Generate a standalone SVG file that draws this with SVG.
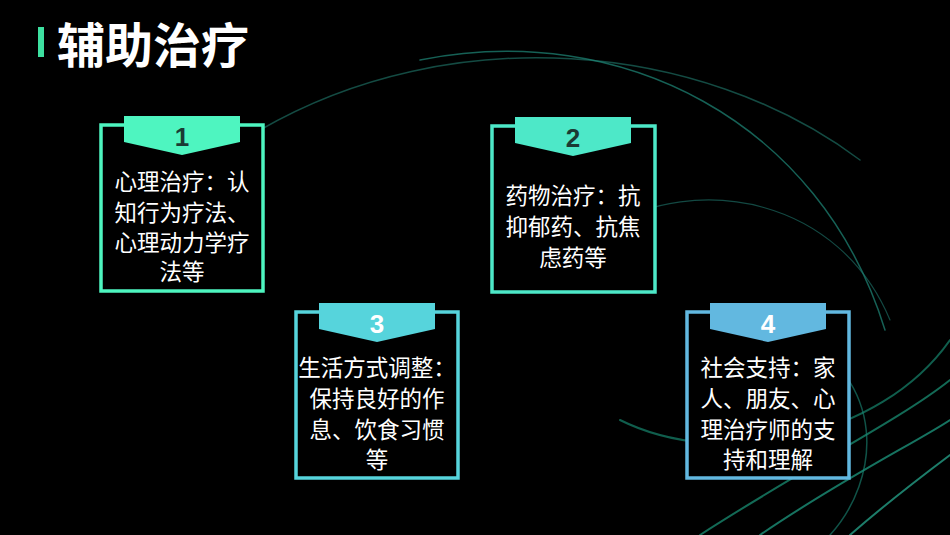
<svg xmlns="http://www.w3.org/2000/svg" width="950" height="535" viewBox="0 0 950 535">
<style>
.t{font-family:"Noto Sans CJK SC","Liberation Sans",sans-serif;font-size:22.5px;fill:#fff;text-anchor:middle}
.n{font-family:"Liberation Sans","Noto Sans",sans-serif;font-size:26px;font-weight:bold;text-anchor:middle}
.box{fill:#000;stroke-width:3.5}
.sw{fill:none;stroke-linecap:round}
</style>
<rect width="950" height="535" fill="#000"/>
<g id="bg">
<path class="sw" d="M260 130 C450 20 700 40 860 160" stroke="#1c6b60" stroke-width="1.5" opacity="0.7"/>
<path class="sw" d="M420 60 C620 20 820 120 885 330" stroke="#1f8a7a" stroke-width="1.5" opacity="0.7"/>
<path class="sw" d="M600 230 C700 170 840 200 890 320" stroke="#1f7a70" stroke-width="1.2" opacity="0.6"/>
<path class="sw" d="M620 420 C720 470 880 440 950 340" stroke="#1a9c80" stroke-width="2" opacity="0.6"/>
<path class="sw" d="M700 535 C800 470 900 420 950 380" stroke="#1fb090" stroke-width="2" opacity="0.6"/>
<path class="sw" d="M760 535 C840 480 920 440 950 420" stroke="#25c0a0" stroke-width="2" opacity="0.6"/>
<path class="sw" d="M850 535 C890 500 930 470 950 455" stroke="#30d0b0" stroke-width="2" opacity="0.6"/>
<path class="sw" d="M790 330 C890 380 880 480 830 535" stroke="#1a8a78" stroke-width="1.5" opacity="0.6"/>
</g>
<g id="title">
<rect x="38" y="27" width="6" height="30" fill="#3de0a0"/>
<text x="57" y="63" font-family="Noto Sans CJK SC,sans-serif" font-size="48" font-weight="bold" fill="#fff">辅助治疗</text>
</g>
<g id="node1">
<rect class="box" x="101" y="125" width="162" height="166" stroke="#4ef5c0"/>
<path d="M124 116 H240 V142 L182 155 L124 142 Z" fill="#4ef5c0"/>
<text class="n" x="182" y="146" fill="#1b3a34">1</text>
<text class="t" x="182" y="190">心理治疗：认</text>
<text class="t" x="182" y="221">知行为疗法、</text>
<text class="t" x="182" y="251">心理动力学疗</text>
<text class="t" x="182" y="280">法等</text>
</g>
<g id="node2">
<rect class="box" x="492" y="126" width="163" height="166" stroke="#4de8c8"/>
<path d="M515 117 H631 V143 L573 156 L515 143 Z" fill="#4de8c8"/>
<text class="n" x="573" y="147" fill="#1b3a34">2</text>
<text class="t" x="573" y="204">药物治疗：抗</text>
<text class="t" x="573" y="235">抑郁药、抗焦</text>
<text class="t" x="573" y="266">虑药等</text>
</g>
<g id="node3">
<rect class="box" x="296" y="312" width="162" height="166" stroke="#56d4dc"/>
<path d="M319 303 H435 V329 L377 342 L319 329 Z" fill="#56d4dc"/>
<text class="n" x="377" y="333" fill="#fff">3</text>
<text class="t" x="377" y="376">生活方式调整：</text>
<text class="t" x="377" y="407">保持良好的作</text>
<text class="t" x="377" y="438">息、饮食习惯</text>
<text class="t" x="377" y="468">等</text>
</g>
<g id="node4">
<rect class="box" x="687" y="312" width="162" height="166" stroke="#62b8e0"/>
<path d="M710 303 H826 V329 L768 342 L710 329 Z" fill="#62b8e0"/>
<text class="n" x="768" y="333" fill="#fff">4</text>
<text class="t" x="768" y="376">社会支持：家</text>
<text class="t" x="768" y="407">人、朋友、心</text>
<text class="t" x="768" y="438">理治疗师的支</text>
<text class="t" x="768" y="468">持和理解</text>
</g>
<g id="connectors"></g>
</svg>
